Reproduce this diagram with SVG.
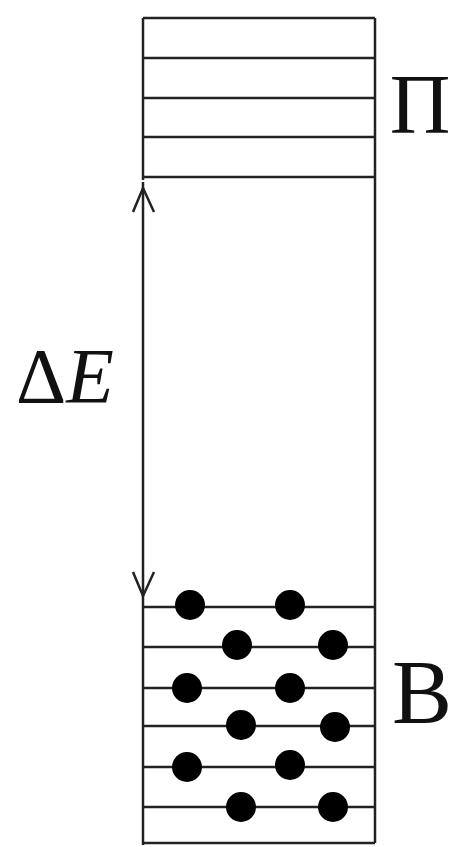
<svg xmlns="http://www.w3.org/2000/svg" width="453" height="847" viewBox="0 0 453 847">
<style>
.l{stroke:#222;stroke-width:2.5;fill:none}
.d{fill:#000}
.t{font-family:"Liberation Serif","DejaVu Serif",serif;fill:#111}
</style>
<rect width="453" height="847" fill="#fff"/>
<g id="pi-band">
<line class="l" x1="143" y1="18" x2="375" y2="18"/>
<line class="l" x1="143" y1="58" x2="375" y2="58"/>
<line class="l" x1="143" y1="98" x2="375" y2="98"/>
<line class="l" x1="143" y1="137" x2="375" y2="137"/>
<line class="l" x1="143" y1="177" x2="375" y2="177"/>
<line class="l" x1="143" y1="18" x2="143" y2="180"/>
<text class="t" x="420" y="133" font-size="84" text-anchor="middle">Π</text>
</g>
<g id="right-edge">
<line class="l" x1="375" y1="18" x2="375" y2="843"/>
</g>
<g id="b-band">
<line class="l" x1="143" y1="607" x2="375" y2="607"/>
<line class="l" x1="143" y1="647" x2="375" y2="647"/>
<line class="l" x1="143" y1="688" x2="375" y2="688"/>
<line class="l" x1="143" y1="726" x2="375" y2="726"/>
<line class="l" x1="143" y1="767" x2="375" y2="767"/>
<line class="l" x1="143" y1="807" x2="375" y2="807"/>
<line class="l" x1="143" y1="843" x2="375" y2="843"/>
<line class="l" x1="143" y1="600" x2="143" y2="845"/>
<circle class="d" cx="190" cy="605" r="15"/>
<circle class="d" cx="290" cy="605" r="15"/>
<circle class="d" cx="237" cy="645" r="15"/>
<circle class="d" cx="333" cy="645" r="15"/>
<circle class="d" cx="187" cy="688" r="15"/>
<circle class="d" cx="290" cy="688" r="15"/>
<circle class="d" cx="241" cy="725" r="15"/>
<circle class="d" cx="335" cy="727" r="15"/>
<circle class="d" cx="187" cy="767" r="15"/>
<circle class="d" cx="290" cy="765" r="15"/>
<circle class="d" cx="241" cy="807" r="15"/>
<circle class="d" cx="333" cy="807" r="15"/>
<text class="t" x="422" y="723" font-size="90" text-anchor="middle">B</text>
</g>
<g id="connectors">
<line class="l" x1="143" y1="182" x2="143" y2="600"/>
<polyline class="l" points="133,212 143,188 154,212"/>
<polyline class="l" points="133,572 143,596 154,572"/>
</g>
<g id="delta-e">
<text class="t" x="16" y="402" font-size="78">Δ<tspan font-style="italic">E</tspan></text>
</g>
</svg>
